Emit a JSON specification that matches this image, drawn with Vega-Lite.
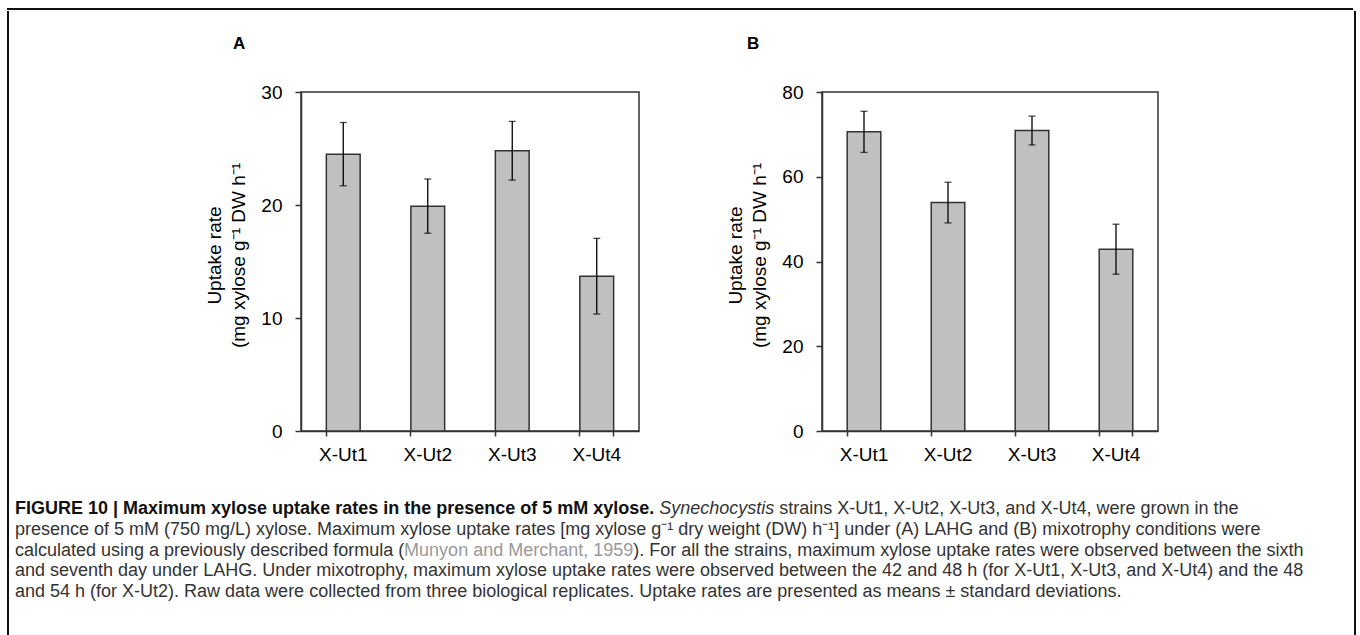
{
  "$schema": "https://vega.github.io/schema/vega-lite/v6.json",
  "background": "white",
  "padding": {"left": 7, "top": 8, "right": 0, "bottom": 0},
  "autosize": {"type": "pad"},
  "datasets": {
    "rates": [
      {"panel": "A", "strain": "X-Ut1", "rate": 24.5, "sd": 2.8},
      {"panel": "A", "strain": "X-Ut2", "rate": 19.9, "sd": 2.4},
      {"panel": "A", "strain": "X-Ut3", "rate": 24.8, "sd": 2.6},
      {"panel": "A", "strain": "X-Ut4", "rate": 13.7, "sd": 3.35},
      {"panel": "B", "strain": "X-Ut1", "rate": 70.6, "sd": 4.85},
      {"panel": "B", "strain": "X-Ut2", "rate": 53.9, "sd": 4.8},
      {"panel": "B", "strain": "X-Ut3", "rate": 70.9, "sd": 3.4},
      {"panel": "B", "strain": "X-Ut4", "rate": 42.9, "sd": 5.9}
    ],
    "caption": [
      {"line": 1, "seg": "b", "text": "FIGURE 10 | Maximum xylose uptake rates in the presence of 5 mM xylose."},
      {"line": 1, "seg": "i", "text": "Synechocystis"},
      {"line": 1, "seg": "r1", "text": "strains X-Ut1, X-Ut2, X-Ut3, and X-Ut4, were grown in the"},
      {"line": 2, "seg": "p", "text": "presence of 5 mM (750 mg/L) xylose. Maximum xylose uptake rates [mg xylose g⁻¹ dry weight (DW) h⁻¹] under (A) LAHG and (B) mixotrophy conditions were"},
      {"line": 3, "seg": "p", "text": "calculated using a previously described formula ("},
      {"line": 3, "seg": "g", "text": "Munyon and Merchant, 1959"},
      {"line": 3, "seg": "r3", "text": "). For all the strains, maximum xylose uptake rates were observed between the sixth"},
      {"line": 4, "seg": "p", "text": "and seventh day under LAHG. Under mixotrophy, maximum xylose uptake rates were observed between the 42 and 48 h (for X-Ut1, X-Ut3, and X-Ut4) and the 48"},
      {"line": 5, "seg": "p", "text": "and 54 h (for X-Ut2). Raw data were collected from three biological replicates. Uptake rates are presented as means ± standard deviations."}
    ]
  },
  "config": {
    "font": "Liberation Sans",
    "view": {"stroke": null},
    "axis": {
      "domainColor": "#333", "domainWidth": 1.5,
      "tickColor": "#333", "tickWidth": 1.5,
      "labelColor": "#000", "labelFontSize": 19, "labelFont": "Liberation Sans",
      "titleFont": "Liberation Sans", "titleFontSize": 19, "titleFontWeight": "normal", "titleColor": "#000",
      "grid": false
    }
  },
  "spacing": 0,
  "vconcat": [
    {
      "width": 1344, "height": 0.001,
      "view": {"stroke": "#111", "strokeWidth": 2},
      "data": {"values": []},
      "mark": "point",
      "encoding": {}
    },
    {
      "spacing": 5,
      "hconcat": [
        {
          "width": 0.001, "height": 640,
          "view": {"stroke": "#111", "strokeWidth": 2},
          "data": {"values": []},
          "mark": "point",
          "encoding": {}
        },
        {
          "spacing": 10,
          "vconcat": [
            {
              "width": 100, "height": 12,
              "data": {"values": []},
              "mark": "point",
              "encoding": {}
            },
            {
              "spacing": 85,
              "hconcat": [
                {
                  "width": 104, "height": 300,
                  "data": {"values": []},
                  "mark": "point",
                  "encoding": {}
                },
                {
                  "width": 338, "height": 339,
                  "view": {"stroke": "#333", "strokeWidth": 1.5},
                  "title": {"text": "A", "anchor": "start", "frame": "group", "dx": -68, "offset": 30, "fontSize": 17, "fontWeight": "bold", "font": "Liberation Sans", "color": "#000"},
                  "data": {"name": "rates"},
                  "transform": [{"filter": "datum.panel === 'A'"}],
                  "encoding": {
                    "y": {"field": "rate", "type": "quantitative", "scale": {"domain": [0, 30], "nice": false},
                      "axis": {"title": ["Uptake rate", "(mg xylose g⁻¹ DW h⁻¹"], "values": [0, 10, 20, 30], "tickSize": 6, "labelPadding": 13, "titlePadding": 12, "titleLineHeight": 24.5, "titleY": 163}}
                  },
                  "resolve": {"axis": {"x": "independent"}},
                  "layer": [
                    {"mark": {"type": "bar", "fill": "#c0c0c0", "stroke": "#333", "strokeWidth": 1.5},
                     "encoding": {"x": {"field": "strain", "type": "nominal", "scale": {"paddingInner": 0.6, "paddingOuter": 0.3},
                       "axis": {"title": null, "labelAngle": 0, "bandPosition": 0, "tickSize": 5, "labelPadding": 9}}}},
                    {"mark": {"type": "errorbar", "ticks": true, "size": 7, "thickness": 1.3, "color": "#000"},
                     "encoding": {"x": {"field": "strain", "type": "nominal",
                       "axis": {"title": null, "orient": "bottom", "values": ["X-Ut4"], "bandPosition": 1, "labels": false, "domain": false, "tickSize": 5}},
                       "yError": {"field": "sd"}}}
                  ]
                },
                {
                  "width": 336, "height": 339,
                  "view": {"stroke": "#333", "strokeWidth": 1.5},
                  "title": {"text": "B", "anchor": "start", "frame": "group", "dx": -75, "offset": 30, "fontSize": 17, "fontWeight": "bold", "font": "Liberation Sans", "color": "#000"},
                  "data": {"name": "rates"},
                  "transform": [{"filter": "datum.panel === 'B'"}],
                  "encoding": {
                    "y": {"field": "rate", "type": "quantitative", "scale": {"domain": [0, 80], "nice": false},
                      "axis": {"title": ["Uptake rate", "(mg xylose g⁻¹ DW h⁻¹"], "values": [0, 20, 40, 60, 80], "tickSize": 6, "labelPadding": 13, "titlePadding": 12, "titleLineHeight": 24.5, "titleY": 163}}
                  },
                  "resolve": {"axis": {"x": "independent"}},
                  "layer": [
                    {"mark": {"type": "bar", "fill": "#c0c0c0", "stroke": "#333", "strokeWidth": 1.5},
                     "encoding": {"x": {"field": "strain", "type": "nominal", "scale": {"paddingInner": 0.6, "paddingOuter": 0.3},
                       "axis": {"title": null, "labelAngle": 0, "bandPosition": 0, "tickSize": 5, "labelPadding": 9}}}},
                    {"mark": {"type": "errorbar", "ticks": true, "size": 7, "thickness": 1.3, "color": "#000"},
                     "encoding": {"x": {"field": "strain", "type": "nominal",
                       "axis": {"title": null, "orient": "bottom", "values": ["X-Ut4"], "bandPosition": 1, "labels": false, "domain": false, "tickSize": 5}},
                       "yError": {"field": "sd"}}}
                  ]
                }
              ]
            },
            {
              "width": 1334, "height": 140,
              "data": {"name": "caption"},
              "encoding": {
                "y": {"field": "line", "type": "quantitative", "scale": {"domain": [-0.657, 6.106], "reverse": true, "nice": false, "zero": false}, "axis": null},
                "x": {"value": 0},
                "text": {"field": "text", "type": "nominal"}
              },
              "layer": [
                {"transform": [{"filter": "datum.seg === 'p'"}],
                 "mark": {"type": "text", "align": "left", "baseline": "middle", "fontSize": 18, "color": "#333"}},
                {"transform": [{"filter": "datum.seg === 'b'"}],
                 "mark": {"type": "text", "align": "left", "baseline": "middle", "fontSize": 18, "fontWeight": "bold", "color": "#111"}},
                {"transform": [{"filter": "datum.seg === 'i'"}],
                 "mark": {"type": "text", "align": "left", "baseline": "middle", "fontSize": 18, "fontStyle": "italic", "color": "#333", "dx": 644.3}},
                {"transform": [{"filter": "datum.seg === 'r1'"}],
                 "mark": {"type": "text", "align": "left", "baseline": "middle", "fontSize": 18, "color": "#333", "dx": 764.3}},
                {"transform": [{"filter": "datum.seg === 'g'"}],
                 "mark": {"type": "text", "align": "left", "baseline": "middle", "fontSize": 18, "color": "#999", "dx": 389.1}},
                {"transform": [{"filter": "datum.seg === 'r3'"}],
                 "mark": {"type": "text", "align": "left", "baseline": "middle", "fontSize": 18, "color": "#333", "dx": 618.2}}
              ]
            }
          ]
        },
        {
          "width": 0.001, "height": 640,
          "view": {"stroke": "#111", "strokeWidth": 2},
          "data": {"values": []},
          "mark": "point",
          "encoding": {}
        }
      ]
    }
  ]
}
